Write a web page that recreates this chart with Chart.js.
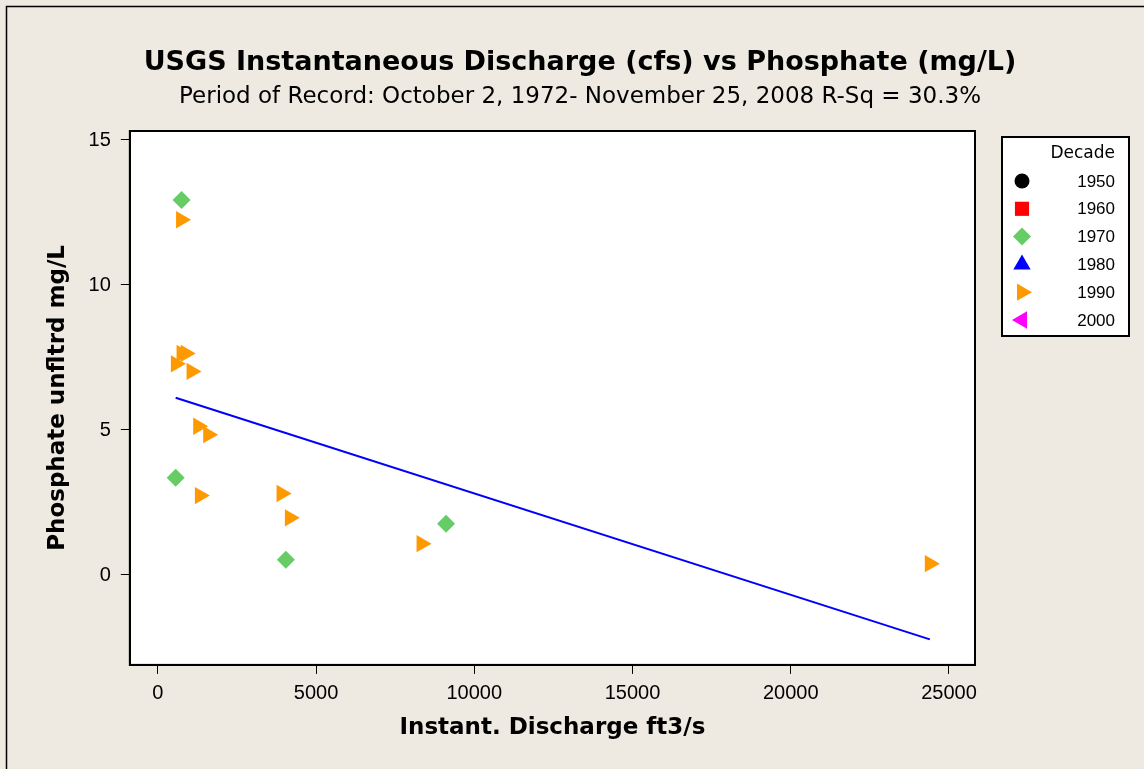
<!DOCTYPE html>
<html>
<head>
<meta charset="utf-8">
<script src="https://cdn.jsdelivr.net/npm/chart.js@4/dist/chart.umd.min.js"></script>
<style>
  html, body { margin: 0; padding: 0; background: #eeeae1; }
  #wrap { position: relative; width: 1144px; height: 769px; overflow: hidden; }
  #chart1 { position: absolute; left: 0; top: 0; }
</style>
</head>
<body>
<div id="wrap"><canvas id="chart1" width="1144" height="769"></canvas></div>
<script>
// decades shown in the legend
var decades = ['1950', '1960', '1970', '1980', '1990', '2000'];

// discharge (cfs) and phosphate (mg/L) samples by decade
var x1950 = [], y1950 = [];
var x1960 = [], y1960 = [];
var x1970 = [749, 563, 4045, 9107];
var y1970 = [12.93, 3.35, 0.53, 1.77];
var x1980 = [], y1980 = [];
var x1990 = [733, 749, 880, 569, 1065, 1274, 1590, 1327, 3909, 4171, 8333, 24395];
var y1990 = [12.25, 7.64, 7.64, 7.28, 7.02, 5.13, 4.84, 2.74, 2.81, 1.97, 1.08, 0.39];
var x2000 = [], y2000 = [];

// fitted regression line end points
var fitX = [563, 24395];
var fitY = [6.11, -2.22];

var xTicks = [0, 5000, 10000, 15000, 20000, 25000];
var yTicks = [0, 5, 10, 15];

var seriesX = [x1950, x1960, x1970, x1980, x1990, x2000];
var seriesY = [y1950, y1960, y1970, y1980, y1990, y2000];

// marker look per decade
var markerColor = ['#000000', '#ff0000', '#66cc66', '#0000ff', '#ff9900', '#ff00ff'];
var markerStyle = ['circle', 'rect', 'rectRot', 'triangle', 'triangle', 'triangle'];
var markerRotation = [0, 0, 0, 0, 90, -90];
var markerRadius = [7.5, 10, 9, 10, 10, 10];

function pairs(xs, ys) {
    return xs.map(function (x, i) { return { x: x, y: ys[i] }; });
}

var datasets = decades.map(function (d, i) {
    return {
        label: d,
        data: pairs(seriesX[i], seriesY[i]),
        pointStyle: markerStyle[i],
        rotation: markerRotation[i],
        pointRadius: markerRadius[i],
        pointHoverRadius: markerRadius[i],
        backgroundColor: markerColor[i],
        borderColor: markerColor[i],
        borderWidth: 0,
        order: 1
    };
});
datasets.push({
    type: 'line',
    label: 'Fit',
    data: pairs(fitX, fitY),
    borderColor: '#0000ff',
    borderWidth: 2,
    pointRadius: 0,
    fill: false,
    order: 0
});

var font = "'Liberation Sans', Arial, sans-serif";
var wideFont = "'DejaVu Sans', Verdana, sans-serif";

// white plot box with a frame on all four sides
var plotBox = {
    id: 'plotBox',
    beforeDraw: function (chart) {
        var ctx = chart.ctx, a = chart.chartArea;
        ctx.save();
        ctx.strokeStyle = '#000';
        ctx.lineWidth = 1.5;
        ctx.strokeRect(6.5, 6.5, 1200, 900);
        ctx.fillStyle = '#ffffff';
        ctx.fillRect(a.left, a.top, a.right - a.left, a.bottom - a.top);
        ctx.restore();
    },
    afterDraw: function (chart) {
        var ctx = chart.ctx, a = chart.chartArea;
        ctx.save();
        ctx.strokeStyle = '#000';
        ctx.lineWidth = 2;
        ctx.strokeRect(a.left, a.top, a.right - a.left, a.bottom - a.top);
        ctx.restore();
    }
};

// boxed decade legend on the right
var decadeLegend = {
    id: 'decadeLegend',
    afterDraw: function (chart) {
        var ctx = chart.ctx;
        var left = 1002, top = 137, w = 127, h = 199;
        var textRight = 1115, markX = 1022, firstY = 181, step = 27.8;
        ctx.save();
        ctx.fillStyle = '#ffffff';
        ctx.fillRect(left, top, w, h);
        ctx.strokeStyle = '#000';
        ctx.lineWidth = 2;
        ctx.strokeRect(left, top, w, h);
        ctx.fillStyle = '#000';
        ctx.textAlign = 'right';
        ctx.textBaseline = 'middle';
        ctx.font = '17px ' + wideFont;
        ctx.fillText('Decade', textRight, 154);
        ctx.font = '17px ' + font;
        decades.forEach(function (d, i) {
            var ds = chart.data.datasets[i];
            var y = firstY + i * step;
            ctx.fillStyle = ds.backgroundColor;
            ctx.strokeStyle = ds.borderColor;
            Chart.helpers.drawPoint(ctx, {
                pointStyle: ds.pointStyle,
                rotation: ds.rotation,
                radius: ds.pointRadius,
                borderWidth: 0
            }, markX, y);
            ctx.fillStyle = '#000';
            ctx.fillText(d, textRight, y + 1);
        });
        ctx.restore();
    }
};

var ctx1 = document.getElementById('chart1').getContext('2d');
var chart1 = new Chart(ctx1, {
    type: 'scatter',
    data: { datasets: datasets },
    plugins: [plotBox, decadeLegend],
    options: {
        responsive: false,
        animation: false,
        layout: { padding: { left: 16, right: 0, top: 10, bottom: 10 } },
        plugins: {
            legend: { display: false },
            tooltip: { enabled: false },
            title: {
                display: true,
                text: 'USGS Instantaneous Discharge (cfs) vs Phosphate (mg/L)',
                color: '#000',
                font: { family: wideFont, size: 27, weight: 'bold' },
                padding: { top: 37, bottom: 0 }
            },
            subtitle: {
                display: true,
                text: 'Period of Record: October 2, 1972- November 25, 2008 R-Sq = 30.3%',
                color: '#000',
                font: { family: wideFont, size: 23 },
                padding: { top: 3.8, bottom: 20.2 }
            }
        },
        scales: {
            x: {
                type: 'linear',
                min: -885,
                max: 25822,
                afterBuildTicks: function (axis) {
                    axis.ticks = xTicks.map(function (v) { return { value: v }; });
                },
                ticks: {
                    color: '#000',
                    padding: 8,
                    font: { family: font, size: 20 },
                    callback: function (v) { return String(v); }
                },
                grid: { drawOnChartArea: false, color: '#000', lineWidth: 1, tickLength: 9 },
                border: { display: true, color: '#000', width: 2 },
                title: {
                    display: true,
                    text: 'Instant. Discharge ft3/s',
                    color: '#000',
                    font: { family: wideFont, size: 23, weight: 'bold' },
                    padding: { top: 0, bottom: 17.5 }
                }
            },
            y: {
                type: 'linear',
                min: -3.10,
                max: 15.31,
                afterBuildTicks: function (axis) {
                    axis.ticks = yTicks.map(function (v) { return { value: v }; });
                },
                ticks: {
                    color: '#000',
                    padding: 10,
                    font: { family: font, size: 20 },
                    callback: function (v) { return String(v); }
                },
                grid: { drawOnChartArea: false, color: '#000', lineWidth: 1, tickLength: 9 },
                border: { display: true, color: '#000', width: 2 },
                title: {
                    display: true,
                    text: 'Phosphate unfltrd mg/L',
                    color: '#000',
                    font: { family: wideFont, size: 23, weight: 'bold' },
                    padding: { top: 28, bottom: 7 }
                }
            },
            // empty right-hand gutter that holds the decade legend
            gutter: {
                type: 'linear',
                position: 'right',
                display: true,
                ticks: { display: false },
                grid: { display: false },
                border: { display: false },
                afterFit: function (axis) { axis.width = 169; }
            }
        }
    }
});
</script>
</body>
</html>
